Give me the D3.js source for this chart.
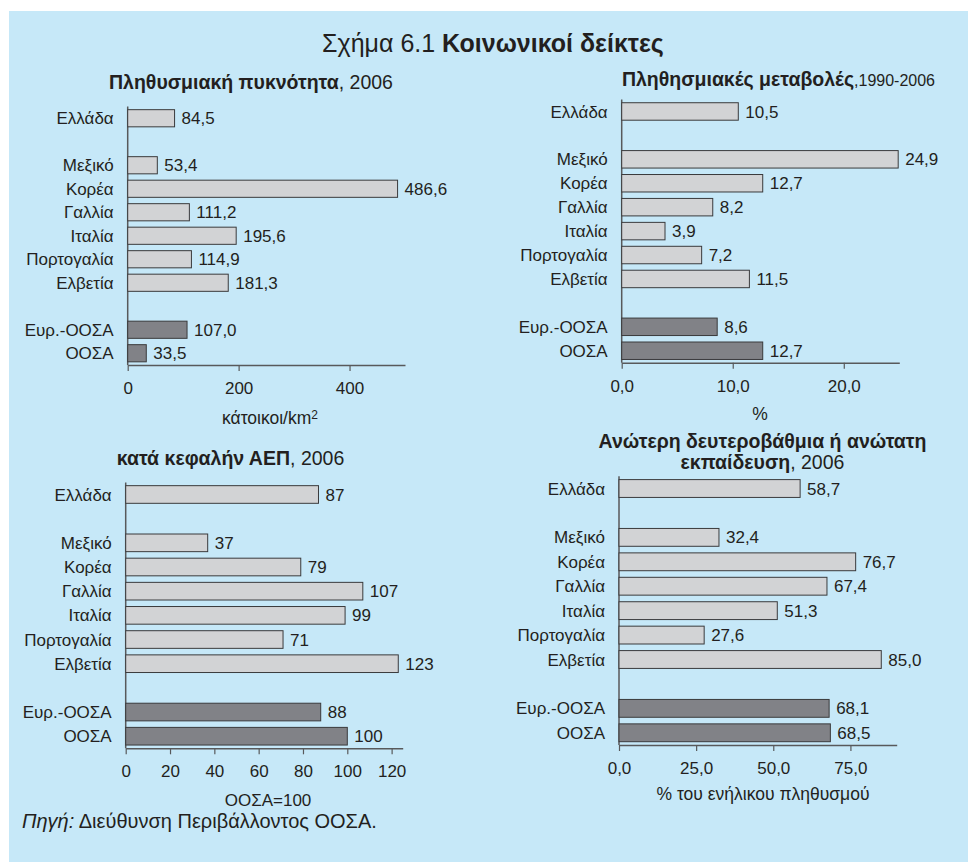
<!DOCTYPE html>
<html>
<head>
<meta charset="utf-8">
<script src="https://cdn.jsdelivr.net/npm/d3@7"></script>
<style>
  html, body { margin: 0; padding: 0; background: #ffffff; }
  svg { display: block; font-family: "Liberation Sans", Arial, Helvetica, sans-serif; }
</style>
</head>
<body>
<svg id="chart" width="968" height="862"></svg>
<script>
// Country groups: Greece, comparison countries, OECD aggregates
const countryGroups = [
  ["Ελλάδα"],
  ["Μεξικό", "Κορέα", "Γαλλία", "Ιταλία", "Πορτογαλία", "Ελβετία"],
  ["Ευρ.-ΟΟΣΑ", "ΟΟΣΑ"]
];
const aggregates = ["Ευρ.-ΟΟΣΑ", "ΟΟΣΑ"];

// Indicator values, in the order of the flattened country list
const populationDensity = [84.5, 53.4, 486.6, 111.2, 195.6, 114.9, 181.3, 107.0, 33.5];
const populationChange = [10.5, 24.9, 12.7, 8.2, 3.9, 7.2, 11.5, 8.6, 12.7];
const gdpPerCapita = [87, 37, 79, 107, 99, 71, 123, 88, 100];
const upperSecondaryEducation = [58.7, 32.4, 76.7, 67.4, 51.3, 27.6, 85.0, 68.1, 68.5];

// Axis tick values
const densityTicks = [0, 200, 400];
const changeTicks = [0, 10, 20];
const gdpTicks = [0, 20, 40, 60, 80, 100, 120];
const educationTicks = [0, 25, 50, 75];

const COLORS = {
  background: "#c6e8f8",
  country: "#d2d3d5",
  aggregate: "#818287",
  barStroke: "#3a3a3c",
  axis: "#58595b",
  text: "#231f20"
};
const FONT = '"Liberation Sans", Arial, Helvetica, sans-serif';

// Greek number formatting (decimal comma)
const gr = d3.formatLocale({ decimal: ",", thousands: ".", grouping: [3], currency: ["", " €"] });
const fmt1 = gr.format(".1f");
const fmt0 = gr.format("d");

// Category slots with an empty slot between groups
const categories = countryGroups.flat();
const slots = [];
countryGroups.forEach((grp, i) => {
  if (i > 0) slots.push(null);
  grp.forEach(c => slots.push(c));
});

const svg = d3.select("#chart");

svg.append("rect")
  .attr("x", 9).attr("y", 11)
  .attr("width", 968 - 9).attr("height", 862 - 11)
  .attr("fill", COLORS.background);

// Figure title
svg.append("text")
  .attr("x", 493).attr("y", 52)
  .attr("text-anchor", "middle")
  .attr("fill", COLORS.text)
  .style("font-size", "25px")
  .call(t => {
    t.append("tspan").text("Σχήμα 6.1  ");
    t.append("tspan").attr("font-weight", "bold").text("Κοινωνικοί δείκτες");
  });

function drawPanel(cfg) {
  const g = svg.append("g");

  const x = d3.scaleLinear().domain([0, cfg.max]).range([cfg.x0, cfg.x1]);
  const y = d3.scaleBand()
    .domain(d3.range(slots.length))
    .range([cfg.top, cfg.bottom])
    .paddingInner(0.27)
    .paddingOuter(0.135);

  const data = categories.map((name, i) => ({
    name,
    value: cfg.values[i],
    slot: slots.indexOf(name)
  }));

  // Title
  const title = g.append("text")
    .attr("text-anchor", cfg.titleAnchor || "middle")
    .attr("fill", COLORS.text)
    .style("font-size", "19.5px");
  cfg.title.forEach((line, li) => {
    const row = title.append("tspan")
      .attr("x", cfg.titleX)
      .attr("y", cfg.titleY + li * 21);
    line.forEach(part => {
      row.append("tspan")
        .attr("font-weight", part.bold ? "bold" : "normal")
        .style("font-size", part.size ? part.size + "px" : null)
        .text(part.text);
    });
  });

  // X axis
  const axis = d3.axisBottom(x)
    .tickValues(cfg.ticks)
    .tickFormat(cfg.tickFormat)
    .tickSize(6)
    .tickSizeOuter(0)
    .tickPadding(11);
  const ax = g.append("g")
    .attr("transform", `translate(0,${cfg.bottom})`)
    .call(axis)
    .attr("font-family", FONT)
    .attr("font-size", 17);
  ax.select(".domain").attr("stroke", COLORS.axis).attr("stroke-width", 1.5);
  ax.selectAll(".tick line").attr("stroke", COLORS.axis).attr("stroke-width", 1.2);
  ax.selectAll(".tick text").attr("fill", COLORS.text);

  // Vertical baseline
  g.append("line")
    .attr("x1", x(0)).attr("x2", x(0))
    .attr("y1", cfg.top).attr("y2", cfg.bottom)
    .attr("stroke", COLORS.axis)
    .attr("stroke-width", 1.5);

  // Bars
  g.selectAll("rect.bar")
    .data(data)
    .join("rect")
    .attr("class", "bar")
    .attr("x", x(0))
    .attr("y", d => y(d.slot))
    .attr("width", d => x(d.value) - x(0))
    .attr("height", y.bandwidth())
    .attr("fill", d => aggregates.includes(d.name) ? COLORS.aggregate : COLORS.country)
    .attr("stroke", COLORS.barStroke)
    .attr("stroke-width", 1);

  // Category labels
  g.selectAll("text.cat")
    .data(data)
    .join("text")
    .attr("class", "cat")
    .attr("x", x(0) - 14)
    .attr("y", d => y(d.slot) + y.bandwidth() / 2)
    .attr("dy", "0.36em")
    .attr("text-anchor", "end")
    .attr("fill", COLORS.text)
    .style("font-size", "17px")
    .text(d => d.name);

  // Value labels
  g.selectAll("text.val")
    .data(data)
    .join("text")
    .attr("class", "val")
    .attr("x", d => x(d.value) + 7)
    .attr("y", d => y(d.slot) + y.bandwidth() / 2)
    .attr("dy", "0.36em")
    .attr("text-anchor", "start")
    .attr("fill", COLORS.text)
    .style("font-size", "17px")
    .text(d => cfg.valueFormat(d.value));

  // Axis title
  const at = g.append("text")
    .attr("x", cfg.axisTitleX)
    .attr("y", cfg.axisTitleY)
    .attr("text-anchor", "middle")
    .attr("fill", COLORS.text)
    .style("font-size", (cfg.axisTitleSize || 17.5) + "px");
  cfg.axisTitle.forEach(part => {
    const s = at.append("tspan").text(part.text);
    if (part.sup) s.attr("dy", "-0.45em").style("font-size", "12px");
  });
}

drawPanel({
  values: populationDensity,
  max: 500, ticks: densityTicks, tickFormat: fmt0, valueFormat: fmt1,
  x0: 127.7, x1: 405, top: 106.5, bottom: 365,
  title: [[{ text: "Πληθυσμιακή πυκνότητα", bold: true }, { text: ", 2006" }]],
  titleX: 251, titleY: 89,
  axisTitle: [{ text: "κάτοικοι/km" }, { text: "2", sup: true }],
  axisTitleX: 270, axisTitleY: 424
});

drawPanel({
  values: populationChange,
  max: 25, ticks: changeTicks, tickFormat: fmt1, valueFormat: fmt1,
  x0: 621.7, x1: 899.3, top: 99.5, bottom: 362.7,
  title: [[{ text: "Πληθησμιακές μεταβολές", bold: true }, { text: ",1990-2006", size: 16 }]],
  titleX: 935, titleY: 86, titleAnchor: "end",
  axisTitle: [{ text: "%" }],
  axisTitleX: 760, axisTitleY: 420
});

drawPanel({
  values: gdpPerCapita,
  max: 125, ticks: gdpTicks, tickFormat: fmt0, valueFormat: fmt0,
  x0: 125.7, x1: 402.7, top: 482.4, bottom: 748.3,
  title: [[{ text: "κατά κεφαλήν ΑΕΠ", bold: true }, { text: ", 2006" }]],
  titleX: 230.5, titleY: 465,
  axisTitle: [{ text: "ΟΟΣΑ=100" }],
  axisTitleX: 268, axisTitleY: 805.5, axisTitleSize: 17
});

drawPanel({
  values: upperSecondaryEducation,
  max: 90, ticks: educationTicks, tickFormat: fmt1, valueFormat: fmt1,
  x0: 619, x1: 896.7, top: 476.3, bottom: 745,
  title: [
    [{ text: "Ανώτερη δευτεροβάθμια ή ανώτατη", bold: true }],
    [{ text: "εκπαίδευση", bold: true }, { text: ", 2006" }]
  ],
  titleX: 762.5, titleY: 448,
  axisTitle: [{ text: "% του ενήλικου πληθυσμού" }],
  axisTitleX: 763, axisTitleY: 800
});

// Source note
svg.append("text")
  .attr("x", 22).attr("y", 828)
  .attr("fill", COLORS.text)
  .style("font-size", "20px")
  .call(t => {
    t.append("tspan").attr("font-style", "italic").text("Πηγή:");
    t.append("tspan").text("  Διεύθυνση Περιβάλλοντος ΟΟΣΑ.");
  });
</script>
</body>
</html>
